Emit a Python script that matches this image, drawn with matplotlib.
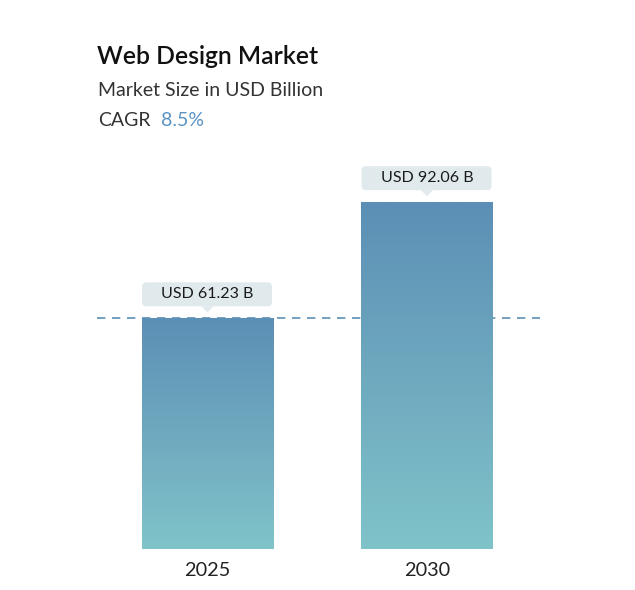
import numpy as np
import matplotlib.pyplot as plt
from matplotlib.colors import LinearSegmentedColormap
from matplotlib.patches import FancyBboxPatch, Polygon

years = ["2025", "2030"]
values = [61.23, 92.06]
labels = ["USD 61.23 B", "USD 92.06 B"]
title = "Web Design Market"
subtitle = "Market Size in USD Billion"
cagr = "8.5%"

plt.rcParams['font.family'] = ['Lato', 'DejaVu Sans']

W, H = 635, 590
fig = plt.figure(figsize=(W / 100, H / 100), dpi=100)

# axes placed in pixel terms: left 97, right 540, bottom 549, top 150
ax = fig.add_axes([97 / W, 1 - 549 / H, (540 - 97) / W, (549 - 150) / H])
ax.axis('off')

cmap = LinearSegmentedColormap.from_list("bar", ["#80c3c9", "#5c8fb5"])
grad = np.linspace(0, 1, 256).reshape(-1, 1)
bw = 0.6

bars = ax.bar(range(len(values)), values, width=bw, color='none')
for i, (b, v) in enumerate(zip(bars, values)):
    x0 = b.get_x()
    im = ax.imshow(grad, cmap=cmap, aspect='auto', origin='lower',
                   extent=[x0, x0 + bw, 0, v], zorder=2)
    im.set_clip_path(b)
ax.set_xlim(-0.503, 1.515)
ax.set_ylim(0, 105.9)

# dashed reference line at the first value (drawn behind the bars)
ax.axhline(values[0], color="#5c8fb5", lw=1.2, ls=(0, (5, 4)), zorder=1)

# value callouts
px = (1.515 + 0.503) / 443  # data units per pixel in x
py = 105.9 / 399
for i, (v, lab) in enumerate(zip(values, labels)):
    bx = i - 0.298
    bwid = 130 * px
    gap = 12 * py
    bh = 24 * py
    box = FancyBboxPatch((bx, v + gap), bwid, bh,
                         boxstyle="round,pad=0,rounding_size=0.02",
                         mutation_aspect=py / px,
                         fc="#e0eaed", ec="none", zorder=4)
    ax.add_patch(box)
    tri = Polygon([[i - 6 * px, v + gap], [i + 6 * px, v + gap], [i, v + gap - 6 * py]],
                  closed=True, fc="#e0eaed", ec="none", zorder=4)
    ax.add_patch(tri)
    ax.text(i, v + gap + bh / 2, lab, ha='center', va='center',
            fontsize=11.5, color="#1a1a1a", zorder=5)
    ax.text(i, -13 * py, years[i], ha='center', va='top',
            fontsize=14.3, color="#222222", clip_on=False)

fig.text(97 / W, 1 - 56 / H, title, fontsize=17.8, fontweight='semibold',
         color="#111111", va='center')
fig.text(98 / W, 1 - 91 / H, subtitle, fontsize=14, color="#333333", va='center')
t = fig.text(98 / W, 1 - 121 / H, "CAGR", fontsize=14, color="#333333", va='center')
fig.canvas.draw()
bb = t.get_window_extent()
fig.text((bb.x1 + 10) / W, 1 - 121 / H, cagr, fontsize=14, color="#5b93c3", va='center')

fig.savefig("out.png", dpi=100)
